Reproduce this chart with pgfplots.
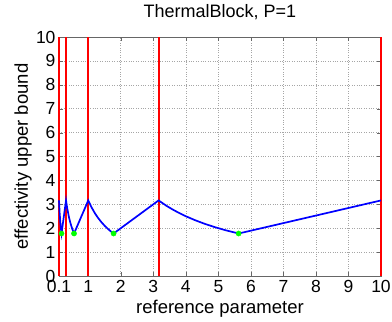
\documentclass[border=0pt]{standalone}
\usepackage{pgfplots}
\pgfplotsset{compat=1.18}
\usepackage{fontspec}
\setmainfont{Liberation Sans}
\definecolor{mblue}{rgb}{0,0,1}
\definecolor{mred}{rgb}{1,0,0}
\definecolor{mgreen}{rgb}{0,1,0}
\begin{document}
\begin{tikzpicture}
\path[use as bounding box] (-59pt,-46pt) rectangle (333pt,276pt);
\begin{axis}[
  at={(0pt,0pt)}, anchor=south west,
  scale only axis, width=322pt, height=239pt,
  xmin=0.1, xmax=10, ymin=0, ymax=10,
  xtick={0.1,1,2,3,4,5,6,7,8,9,10},
  xticklabels={0.1,1,2,3,4,5,6,7,8,9,10},
  ytick={0,1,...,10},
  tick align=inside, tick pos=both,
  major tick length=4pt,
  grid=major,
  major grid style={gray!70, dotted, line width=0.6pt},
  axis line style={black!60, line width=0.8pt},
  tick style={black!60},
  /pgf/number format/assume math mode=true,
  ticklabel style={font=\fontsize{17.5}{20}\selectfont},
  xticklabel style={yshift=-1pt},
  label style={font=\fontsize{18.5}{21}\selectfont},
  title style={font=\fontsize{18}{21}\selectfont, at={(axis description cs:0.5,1)}, anchor=base, yshift=14pt},
  title={ThermalBlock, P=1},
  xlabel={reference parameter},
  ylabel={effectivity upper bound},
  xlabel style={at={(axis description cs:0.5,0)}, anchor=base, yshift=-37pt},
  ylabel style={at={(axis description cs:0,0.5)}, anchor=base, yshift=31pt},
  clip=false,
]
\addplot[mred, line width=2pt] coordinates {(0.1,0) (0.1,10)};
\addplot[mred, line width=2pt] coordinates {(0.3162,0) (0.3162,10)};
\addplot[mred, line width=2pt] coordinates {(1,0) (1,10)};
\addplot[mred, line width=2pt] coordinates {(3.162,0) (3.162,10)};
\addplot[mred, line width=2pt] coordinates {(10,0) (10,10)};
\addplot[mblue, line width=1.7pt] coordinates {
(0.1,3.162) (0.12,2.635) (0.14,2.259) (0.16,1.976) (0.1778,1.778) (0.2,2.0) (0.25,2.5) (0.3162,3.162)
(0.35,2.857) (0.4,2.5) (0.45,2.222) (0.5,2.0) (0.5623,1.778) (0.7,2.214) (0.85,2.688) (1,3.162)
(1.1,2.875) (1.2,2.635) (1.3,2.432) (1.4,2.259) (1.5,2.108) (1.6,1.976) (1.7,1.860) (1.778,1.778) (3.162,3.162)
(3.4,2.941) (3.6,2.778) (3.8,2.632) (4.0,2.5) (4.3,2.326) (4.6,2.174) (4.9,2.041) (5.2,1.923) (5.623,1.778) (10,3.162)
};
\addplot[only marks, mark=*, mark size=2.6pt, mgreen, mark options={draw=mgreen, fill=mgreen}] coordinates {
(0.1778,1.778) (0.5623,1.778) (1.778,1.778) (5.623,1.778)};
\end{axis}
\end{tikzpicture}
\end{document}
